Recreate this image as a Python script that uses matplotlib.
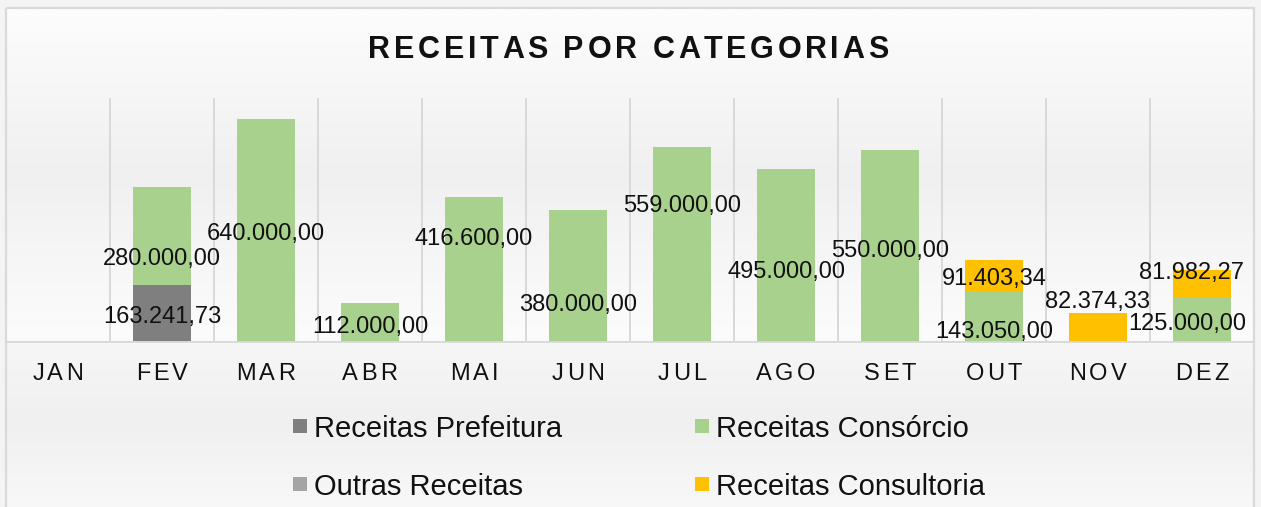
import numpy as np
import matplotlib
matplotlib.use('Agg')
from matplotlib import pyplot as plt
from matplotlib import font_manager
from matplotlib.ft2font import FT2Font
from matplotlib.patches import Rectangle

# dados do gráfico
meses = ['JAN', 'FEV', 'MAR', 'ABR', 'MAI', 'JUN', 'JUL', 'AGO', 'SET', 'OUT', 'NOV', 'DEZ']
series = ['Receitas Prefeitura', 'Receitas Consórcio', 'Outras Receitas', 'Receitas Consultoria']
prefeitura = [0, 163241.73, 0, 0, 0, 0, 0, 0, 0, 0, 0, 0]
consorcio = [0, 280000, 640000, 112000, 416600, 380000, 559000, 495000, 550000, 143050, 0, 125000]
outras = [0, 0, 0, 0, 0, 0, 0, 0, 0, 0, 0, 0]
consultoria = [0, 0, 0, 0, 0, 0, 0, 0, 0, 91403.34, 82374.33, 81982.27]
cores = ['#7f7f7f', '#a9d18e', '#a5a5a5', '#ffc000']

# deslocamento dos rótulos (px, x para direita, y para baixo) -- ajustados à mão no original
desloc = {
    (0, 1): (0, 1),
    (1, 1): (0, 20), (1, 2): (0, 1), (1, 3): (0, 2), (1, 4): (0, -33), (1, 5): (0, 27),
    (1, 6): (0, -41), (1, 7): (0, 14), (1, 8): (0, 2), (1, 9): (0, 12), (1, 11): (-15, 1),
    (3, 9): (0, 0), (3, 10): (0, -28), (3, 11): (-10, -14),
}

W, H = 1261, 507
TXT = '#111111'
GRADE = '#d9d9d9'


def fmt_br(v):
    s = '{:,.2f}'.format(v)
    return s.replace(',', 'X').replace('.', ',').replace('X', '.')


def texto_espacado(fig, cx, cy, s, size, weight='normal', track=0.0):
    # texto com espaçamento entre letras, posicionado em pixels
    prop = font_manager.FontProperties(family='Liberation Sans', weight=weight, size=size)
    font = FT2Font(font_manager.findfont(prop), hinting_factor=1)
    font.set_size(size, 100)
    adv = [font.load_char(ord(c)).linearHoriAdvance / 65536 for c in s]
    total = sum(adv) + track * (len(s) - 1)
    x = cx - total / 2
    for c, a in zip(s, adv):
        fig.text(x / W, 1 - cy / H, c, fontproperties=prop, ha='left',
                 va='center_baseline', color=TXT)
        x += a + track


fig = plt.figure(figsize=(W / 100, H / 100), dpi=100, facecolor='#f4f4f4')

# fundo com degradê
bg = fig.add_axes([0, 0, 1, 1])
bg.set_xlim(0, W)
bg.set_ylim(H, 0)
bg.axis('off')
ys = np.arange(H)
cinza = np.interp(ys, [8, 170, 335, 342, 420, 507], [252, 240, 252, 246, 240, 248]) / 255
grad = np.repeat(cinza[:, None], 3, axis=1)[:, None, :]
bg.imshow(grad, extent=(6, 1254, H, 8), aspect='auto', zorder=0)
bg.add_patch(Rectangle((6, 8), 1248, H, fill=False, edgecolor=GRADE, lw=1.6, zorder=1))

ax = fig.add_axes([6 / W, (H - 342) / H, 1248 / W, 244 / H])
ax.patch.set_alpha(0)
x = np.arange(len(meses))
ax.set_xlim(-0.5, len(meses) - 0.5)
ax.set_ylim(0, 700000)
for s in ['top', 'left', 'right']:
    ax.spines[s].set_visible(False)
ax.spines['bottom'].set_color(GRADE)
ax.spines['bottom'].set_linewidth(1.4)
ax.set_xticks([])
ax.set_yticks([])
ax.vlines(x[:-1] + 0.5, 0, 700000, color=GRADE, lw=1.4, zorder=0.5)

dados = [prefeitura, consorcio, outras, consultoria]
base = np.zeros(len(meses))
for k, (vals, cor) in enumerate(zip(dados, cores)):
    vals = np.array(vals, dtype=float)
    ax.bar(x, vals, 0.56, bottom=base, color=cor, zorder=2)
    for i, v in enumerate(vals):
        if v > 0:
            dx, dy = desloc.get((k, i), (0, 0))
            ax.annotate(fmt_br(v), (x[i], base[i] + v / 2), xytext=(dx * 0.72, -dy * 0.72),
                        textcoords='offset points', ha='center', va='center_baseline',
                        fontsize=17, family='Liberation Sans', color=TXT, zorder=3)
    base = base + vals

# título e rótulos dos meses
texto_espacado(fig, 628.5, 46.5, 'RECEITAS POR CATEGORIAS', 22, 'bold', 3.3)
for i, m in enumerate(meses):
    texto_espacado(fig, 6 + 104 * (i + 0.5), 372, m, 17, 'normal', 3.0)

# legenda
leg_x = [293, 695]
leg_y = [426, 484]
ordem = [0, 1, 2, 3]
for n, k in enumerate(ordem):
    lx = leg_x[n % 2]
    ly = leg_y[n // 2]
    bg.add_patch(Rectangle((lx, ly - 7), 14, 14, facecolor=cores[k], edgecolor='none', zorder=2))
    bg.text(lx + 21, ly, series[k], fontsize=21, family='Liberation Sans',
            ha='left', va='center_baseline', color=TXT, zorder=2)

fig.savefig('out.png', dpi=100, facecolor=fig.get_facecolor())
